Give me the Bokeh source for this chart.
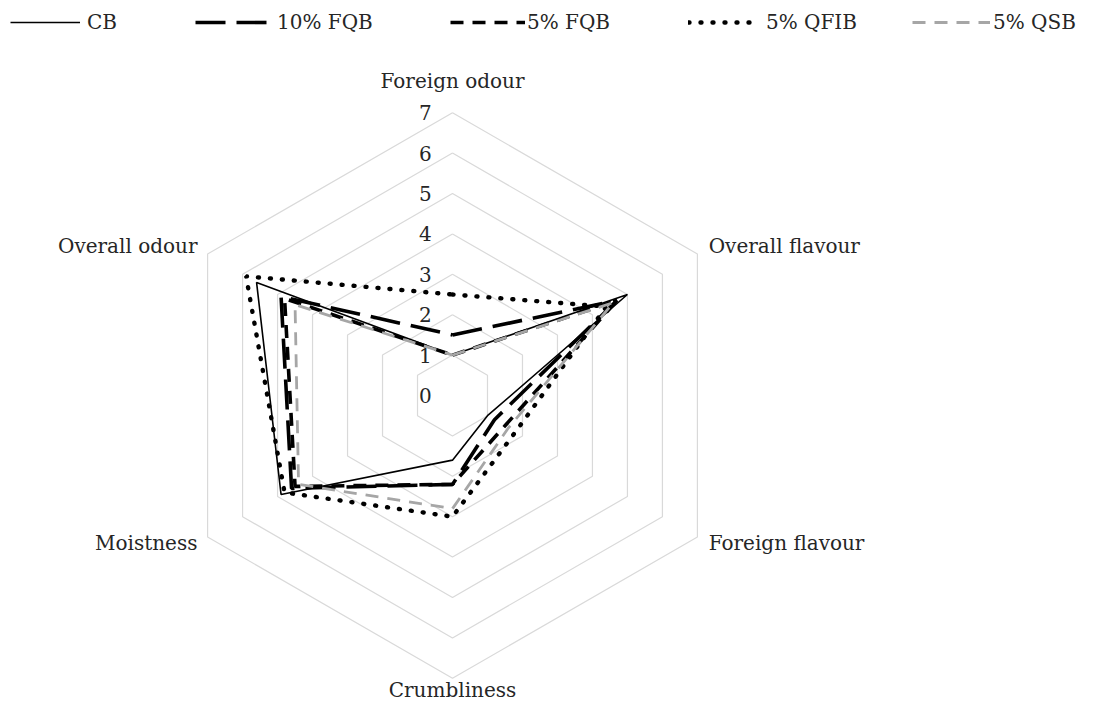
import numpy as np
from bokeh.plotting import figure
from bokeh.models import Range1d, Legend, LegendItem
from bokeh.core.properties import value
from bokeh.embed import file_html
from bokeh.resources import INLINE

# ---------------- data ----------------
categories = ["Foreign odour", "Overall flavour", "Foreign flavour",
              "Crumbliness", "Moistness", "Overall odour"]
cb    = [1.0, 5.0, 1.0, 1.6, 4.9, 5.6]
fqb10 = [1.5, 4.7, 1.2, 2.2, 4.6, 4.9]
fqb5  = [1.0, 4.7, 1.5, 2.2, 4.5, 4.8]
qfib5 = [2.5, 4.4, 1.8, 3.0, 4.8, 5.9]
qsb5  = [1.0, 4.6, 1.6, 2.8, 4.4, 4.5]
series_names = ["CB", "10% FQB", "5% FQB", "5% QFIB", "5% QSB"]
tick_values = [0, 1, 2, 3, 4, 5, 6, 7]
r_max = 7

# ---------------- layout ----------------
W, H = 1080, 703
CX, CY = 452, 395          # centre of radar in canvas px
SCALE = 40.4               # px per unit
FONT = "DejaVu Serif"
TXT = "#262626"

n = len(categories)
ang = np.pi / 2 - np.arange(n) * 2 * np.pi / n

def to_xy(vals):
    v = np.asarray(vals, dtype=float)
    x = v * np.cos(ang)
    y = v * np.sin(ang)
    return list(np.append(x, x[0])), list(np.append(y, y[0]))

p = figure(width=W, height=H, output_backend="svg", toolbar_location=None,
           x_range=Range1d(-CX / SCALE, (W - CX) / SCALE),
           y_range=Range1d(-(H - CY) / SCALE, CY / SCALE),
           min_border=0, min_border_left=0, min_border_right=0,
           min_border_top=0, min_border_bottom=0)
p.axis.visible = False
p.grid.visible = False
p.outline_line_color = None
p.background_fill_color = "white"
p.border_fill_color = "white"

# grid hexagons
gx, gy = [], []
for t in tick_values[1:]:
    x, y = to_xy([t] * n)
    gx.append(x)
    gy.append(y)
p.multi_line(gx, gy, line_color="#d9d9d9", line_width=1.2)

# tick labels
p.text(x=[-0.67] * len(tick_values), y=tick_values, text=[str(t) for t in tick_values],
       text_font=value(FONT), text_font_size="20px", text_color=TXT,
       text_align="center", text_baseline="middle")

# category labels
offs = [(0, 0.78, "center"), (0.28, 0.21, "left"), (0.28, -0.16, "left"),
        (0, -0.3, "center"), (-0.25, -0.16, "right"), (-0.25, 0.21, "right")]
for i, cat in enumerate(categories):
    bx, by = r_max * np.cos(ang[i]), r_max * np.sin(ang[i])
    dx, dy, al = offs[i]
    p.text(x=[bx + dx], y=[by + dy], text=[cat], text_font=value(FONT),
           text_font_size="20px", text_color=TXT, text_align=al,
           text_baseline="middle")

# series
styles = [
    dict(line_color="black", line_width=1.6),
    dict(line_color="black", line_width=3.6, line_dash="30 11"),
    dict(line_color="black", line_width=3.6, line_dash="13 9"),
    dict(line_color="black", line_width=4.4, line_dash="1 11", line_cap="round"),
    dict(line_color="#a6a6a6", line_width=2.8, line_dash="13 9"),
]
renderers = []
for vals, st in zip([cb, fqb10, fqb5, qfib5, qsb5], styles):
    x, y = to_xy(vals)
    r = p.line(x, y, **st)
    renderers.append(r)

# legend: one legend per entry, placed along the top
leg_x  = [10, 195, 450, 688, 912]
leg_w  = [70, 80, 75, 64, 78]
leg_so = [7, 2, 2, 14, 3]
for name, r, lx, gw, so in zip(series_names, renderers, leg_x, leg_w, leg_so):
    lg = Legend(items=[LegendItem(label=name, renderers=[r])],
                location=(lx, H - 34), orientation="horizontal",
                glyph_width=gw, glyph_height=20, label_height=20,
                label_standoff=so, padding=0, margin=0, spacing=0,
                border_line_color=None, background_fill_alpha=0,
                label_text_font=FONT, label_text_font_size="20px",
                label_text_color=TXT)
    p.add_layout(lg, "center")

open("out.html", "w").write(file_html(p, INLINE))
